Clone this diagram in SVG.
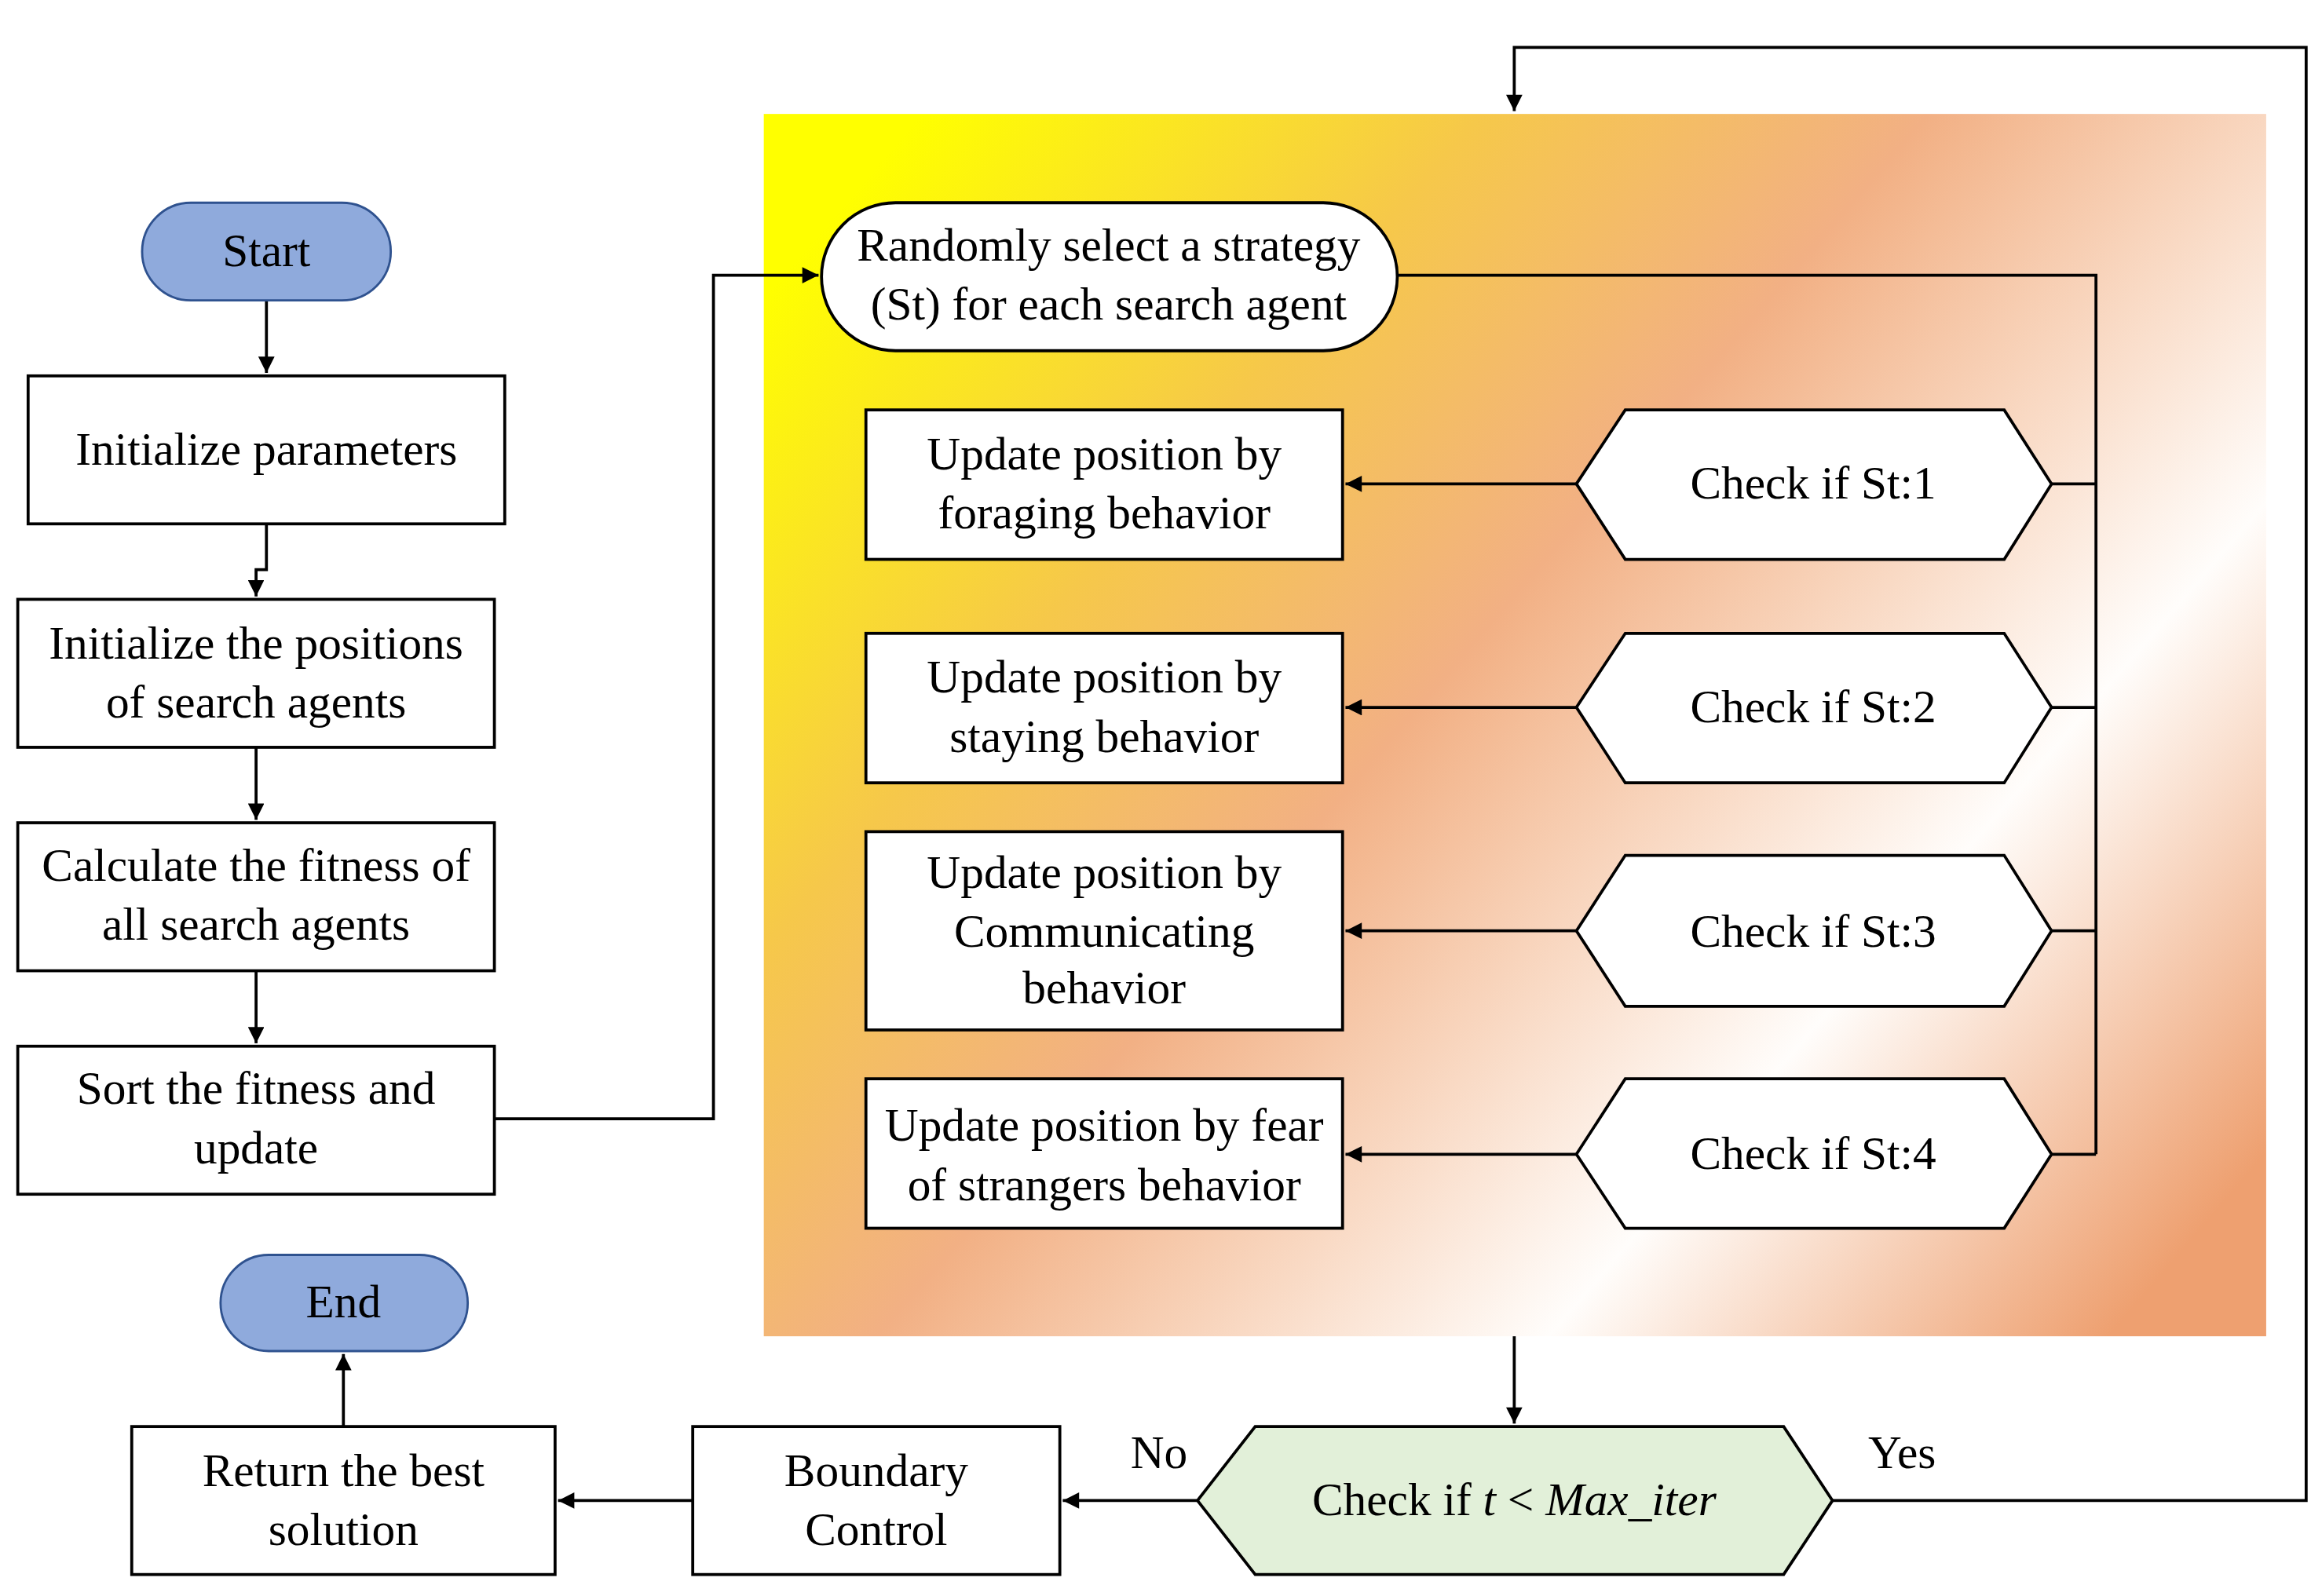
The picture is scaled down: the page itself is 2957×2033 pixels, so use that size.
<svg xmlns="http://www.w3.org/2000/svg" width="2957" height="2033" viewBox="0 0 2957 2033">
<defs>
<linearGradient id="bg" x1="0" y1="0.15" x2="1" y2="0.85">
<stop offset="0" stop-color="#ffff00"/>
<stop offset="0.25" stop-color="#f6c84a"/>
<stop offset="0.45" stop-color="#f2b084"/>
<stop offset="0.75" stop-color="#fffdfb"/>
<stop offset="1" stop-color="#eea070"/>
</linearGradient>
<marker id="ar" viewBox="0 0 10 10" refX="10" refY="5" markerWidth="13" markerHeight="11" orient="auto" markerUnits="userSpaceOnUse">
<path d="M0,0 L10,5 L0,10 z" fill="#000"/>
</marker>
<style>
.b{fill:#fff;stroke:#000;stroke-width:2}
.t{fill:#8faadc;stroke:#2f528f;stroke-width:1.5}
text{font-family:"Liberation Serif","Times New Roman",serif;font-size:31.5px;fill:#000;text-anchor:middle}
.c{fill:none;stroke:#000;stroke-width:2}
</style>
</defs>
<rect width="2957" height="2033" fill="#fff"/>
<g transform="scale(1.885)">
<rect x="516" y="77" width="1015" height="826" fill="url(#bg)"/>
<g id="connectors" class="c">
<path d="M180,203 V252" marker-end="url(#ar)"/>
<path d="M180,354 V385 H173 V403" marker-end="url(#ar)"/>
<path d="M173,505 V554" marker-end="url(#ar)"/>
<path d="M173,656 V705" marker-end="url(#ar)"/>
<path d="M334,756 H482 V186 H553" marker-end="url(#ar)"/>
<path d="M944,186 H1416 V780"/>
<path d="M1386,327 H1416 M1386,478 H1416 M1386,629 H1416 M1386,780 H1416"/>
<path d="M1065,327 H909" marker-end="url(#ar)"/>
<path d="M1065,478 H909" marker-end="url(#ar)"/>
<path d="M1065,629 H909" marker-end="url(#ar)"/>
<path d="M1065,780 H909" marker-end="url(#ar)"/>
<path d="M1023,903 V962" marker-end="url(#ar)"/>
<path d="M1238,1014 H1558 V32 H1023 V75" marker-end="url(#ar)"/>
<path d="M809,1014 H718" marker-end="url(#ar)"/>
<path d="M468,1014 H377" marker-end="url(#ar)"/>
<path d="M232,964 V915" marker-end="url(#ar)"/>
</g>
<g id="start"><rect class="t" x="96" y="137" width="168" height="66" rx="33"/><text x="180" y="180">Start</text></g>
<g id="initparams"><rect class="b" x="19" y="254" width="322" height="100"/><text x="180" y="314">Initialize parameters</text></g>
<g id="initpos"><rect class="b" x="12" y="405" width="322" height="100"/><text x="173" y="445">Initialize the positions</text><text x="173" y="485">of search agents</text></g>
<g id="fitness"><rect class="b" x="12" y="556" width="322" height="100"/><text x="173" y="595">Calculate the fitness of</text><text x="173" y="635">all search agents</text></g>
<g id="sort"><rect class="b" x="12" y="707" width="322" height="100"/><text x="173" y="746">Sort the fitness and</text><text x="173" y="786">update</text></g>
<g id="end"><rect class="t" x="149" y="848" width="167" height="65" rx="32.5"/><text x="232" y="890">End</text></g>
<g id="return"><rect class="b" x="89" y="964" width="286" height="100"/><text x="232" y="1004">Return the best</text><text x="232" y="1044">solution</text></g>
<g id="boundary"><rect class="b" x="468" y="964" width="248" height="100"/><text x="592" y="1004">Boundary</text><text x="592" y="1044">Control</text></g>
<g id="checkt"><polygon points="809,1014 848,964 1205,964 1238,1014 1205,1064 848,1064" fill="#e2f0d9" stroke="#000" stroke-width="2"/><text x="1023" y="1024">Check if <tspan font-style="italic">t</tspan> &lt; <tspan font-style="italic">Max_iter</tspan></text></g>
<text x="783" y="992">No</text>
<text x="1285" y="992">Yes</text>
<g id="random"><rect class="b" x="555" y="137" width="389" height="100" rx="50"/><text x="749" y="176">Randomly select a strategy</text><text x="749" y="216">(St) for each search agent</text></g>
<g id="u1"><rect class="b" x="585" y="277" width="322" height="101"/><text x="746" y="317">Update position by</text><text x="746" y="357">foraging behavior</text></g>
<g id="u2"><rect class="b" x="585" y="428" width="322" height="101"/><text x="746" y="468">Update position by</text><text x="746" y="508">staying behavior</text></g>
<g id="u3"><rect class="b" x="585" y="562" width="322" height="134"/><text x="746" y="600">Update position by</text><text x="746" y="640">Communicating</text><text x="746" y="678">behavior</text></g>
<g id="u4"><rect class="b" x="585" y="729" width="322" height="101"/><text x="746" y="771">Update position by fear</text><text x="746" y="811">of strangers behavior</text></g>
<g id="c1"><polygon class="b" points="1065,327 1098,277 1354,277 1386,327 1354,378 1098,378"/><text x="1225" y="337">Check if St:1</text></g>
<g id="c2"><polygon class="b" points="1065,478 1098,428 1354,428 1386,478 1354,529 1098,529"/><text x="1225" y="488">Check if St:2</text></g>
<g id="c3"><polygon class="b" points="1065,629 1098,578 1354,578 1386,629 1354,680 1098,680"/><text x="1225" y="640">Check if St:3</text></g>
<g id="c4"><polygon class="b" points="1065,780 1098,729 1354,729 1386,780 1354,830 1098,830"/><text x="1225" y="790">Check if St:4</text></g>
</g>
</svg>
